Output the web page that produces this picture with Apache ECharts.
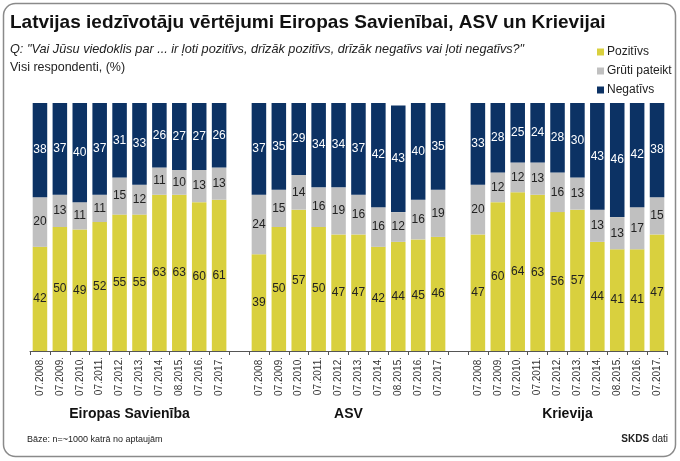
<!DOCTYPE html>
<html>
<head>
<meta charset="utf-8">
<script src="https://cdn.jsdelivr.net/npm/echarts@6/dist/echarts.min.js"></script>
<style>
  html, body { margin: 0; padding: 0; background: #fff; }
</style>
</head>
<body>
<!-- konteiners diagrammai -->
<div id="chart" style="width: 680px; height: 461px"></div>
<script>
// gadi katrai grupai
var years = ["07.2008.", "07.2009.", "07.2010.", "07.2011.", "07.2012.",
  "07.2013.", "07.2014.", "08.2015.", "07.2016.", "07.2017."];
var groupNames = ["Eiropas Savienība", "ASV", "Krievija"];

// Eiropas Savienība
var esPoz = [42, 50, 49, 52, 55, 55, 63, 63, 60, 61];
var esGruti = [20, 13, 11, 11, 15, 12, 11, 10, 13, 13];
var esNeg = [38, 37, 40, 37, 31, 33, 26, 27, 27, 26];
// ASV
var asvPoz = [39, 50, 57, 50, 47, 47, 42, 44, 45, 46];
var asvGruti = [24, 15, 14, 16, 19, 16, 16, 12, 16, 19];
var asvNeg = [37, 35, 29, 34, 34, 37, 42, 43, 40, 35];
// Krievija
var krPoz = [47, 60, 64, 63, 56, 57, 44, 41, 41, 47];
var krGruti = [20, 12, 12, 13, 16, 13, 13, 13, 17, 15];
var krNeg = [33, 28, 25, 24, 28, 30, 43, 46, 42, 38];

// viena ass ar tukšu vietu starp grupām
function join(a, b, c, gap) {
  return a.concat([gap], b, [gap], c);
}
var categories = join(years, years, years, "");
var pozData = join(esPoz, asvPoz, krPoz, "-");
var grutiData = join(esGruti, asvGruti, krGruti, "-");
var negData = join(esNeg, asvNeg, krNeg, "-");

var chart = echarts.init(document.getElementById("chart"));

var gridLeft = 30, gridRight = 13;
var plotW = 680 - gridLeft - gridRight;
var slot = plotW / categories.length;
// grupu nosaukumu centri
var groupCenters = [0, 11, 22].map(function (s) {
  return gridLeft + (s + 5) * slot;
});

function barLabel(color) {
  return {
    show: true,
    position: "inside",
    color: color,
    fontSize: 12,
    fontFamily: "Liberation Sans",
    formatter: "{c}",
  };
}

chart.setOption({
  animation: false,
  textStyle: { fontFamily: "Liberation Sans" },
  grid: { left: gridLeft, right: gridRight, top: 103, bottom: 110 },
  legend: {
    orient: "vertical",
    left: 592,
    top: 41,
    itemWidth: 7,
    itemHeight: 7,
    itemGap: 7,
    icon: "rect",
    textStyle: { fontSize: 12, color: "#222", padding: [0, 0, 0, -2] },
    data: ["Pozitīvs", "Grūti pateikt", "Negatīvs"],
  },
  xAxis: {
    type: "category",
    data: categories,
    axisLine: { lineStyle: { color: "#555", width: 1 } },
    axisTick: { show: true, length: 4, lineStyle: { color: "#555" } },
    axisLabel: {
      rotate: 90,
      interval: 0,
      fontSize: 10,
      color: "#333",
      margin: 6,
    },
  },
  yAxis: {
    type: "value",
    min: 0,
    max: 100,
    show: false,
    splitLine: { show: false },
  },
  series: [
    {
      name: "Pozitīvs",
      type: "bar",
      stack: "a",
      barCategoryGap: "27%",
      itemStyle: { color: "#d9d03e" },
      label: barLabel("#222"),
      data: pozData,
    },
    {
      name: "Grūti pateikt",
      type: "bar",
      stack: "a",
      itemStyle: { color: "#c0c0c0" },
      label: barLabel("#222"),
      data: grutiData,
    },
    {
      name: "Negatīvs",
      type: "bar",
      stack: "a",
      itemStyle: { color: "#0c3264" },
      label: barLabel("#fff"),
      data: negData,
    },
  ],
  graphic: [
    {
      type: "rect",
      shape: { x: 3.5, y: 3.5, width: 672, height: 453, r: 12 },
      style: { fill: "none", stroke: "#8a8a8a", lineWidth: 1.5 },
      silent: true,
    },
    {
      type: "text",
      left: 10,
      top: 13,
      style: {
        text: "Latvijas iedzīvotāju vērtējumi Eiropas Savienībai, ASV un Krievijai",
        font: "bold 19px 'Liberation Sans'",
        fill: "#111",
      },
    },
    {
      type: "text",
      left: 10,
      top: 43,
      style: {
        text: 'Q: "Vai Jūsu viedoklis par ... ir ļoti pozitīvs, drīzāk pozitīvs, drīzāk negatīvs vai ļoti negatīvs?"',
        font: "italic 12.7px 'Liberation Sans'",
        fill: "#222",
      },
    },
    {
      type: "text",
      left: 10,
      top: 61,
      style: {
        text: "Visi respondenti, (%)",
        font: "12.5px 'Liberation Sans'",
        fill: "#222",
      },
    },
    {
      type: "text",
      left: 27,
      top: 435,
      style: {
        text: "Bāze: n=~1000 katrā no aptaujām",
        font: "9px 'Liberation Sans'",
        fill: "#222",
      },
    },
    {
      type: "text",
      right: 12,
      top: 434,
      style: {
        text: "{b|SKDS} dati",
        font: "10px 'Liberation Sans'",
        fill: "#222",
        rich: { b: { fontWeight: "bold", fontSize: 10 } },
      },
    },
  ].concat(groupNames.map(function (name, i) {
    return {
      type: "text",
      x: groupCenters[i],
      y: 414,
      style: {
        text: name,
        font: "bold 14px 'Liberation Sans'",
        fill: "#111",
        textAlign: "center",
        textVerticalAlign: "middle",
      },
    };
  })),
});
</script>
</body>
</html>
